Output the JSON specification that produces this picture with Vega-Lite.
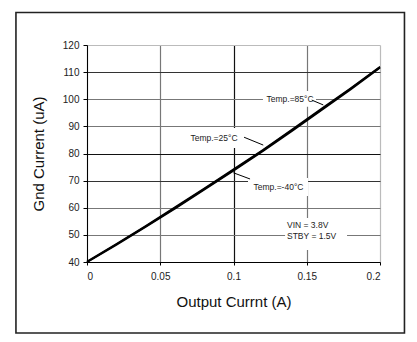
{
  "$schema": "https://vega.github.io/schema/vega-lite/v6.json",
  "width": 293,
  "height": 217,
  "autosize": {"type": "none"},
  "padding": {"left": 87, "top": 45, "right": 37, "bottom": 80},
  "background": "white",
  "config": {
    "view": {"stroke": null},
    "font": "Liberation Sans",
    "axis": {"labelFont": "Liberation Sans", "titleFont": "Liberation Sans", "labelColor": "#222", "titleColor": "#111", "titleFontWeight": "normal", "domainColor": "black", "tickColor": "black", "labelOverlap": false}
  },
  "datasets": {
    "curves": [
      {"temp": "85", "x": 0, "y": 40.2}, {"temp": "85", "x": 0.02, "y": 46.7}, {"temp": "85", "x": 0.04, "y": 53.3}, {"temp": "85", "x": 0.06, "y": 60.2}, {"temp": "85", "x": 0.08, "y": 67.1}, {"temp": "85", "x": 0.1, "y": 74.2}, {"temp": "85", "x": 0.12, "y": 81.3}, {"temp": "85", "x": 0.14, "y": 88.9}, {"temp": "85", "x": 0.16, "y": 96.5}, {"temp": "85", "x": 0.18, "y": 104.1}, {"temp": "85", "x": 0.2, "y": 112.0},
      {"temp": "25", "x": 0, "y": 40.0}, {"temp": "25", "x": 0.02, "y": 46.5}, {"temp": "25", "x": 0.04, "y": 53.1}, {"temp": "25", "x": 0.06, "y": 59.9}, {"temp": "25", "x": 0.08, "y": 66.9}, {"temp": "25", "x": 0.1, "y": 73.9}, {"temp": "25", "x": 0.12, "y": 81.1}, {"temp": "25", "x": 0.14, "y": 88.6}, {"temp": "25", "x": 0.16, "y": 96.2}, {"temp": "25", "x": 0.18, "y": 103.9}, {"temp": "25", "x": 0.2, "y": 111.8},
      {"temp": "-40", "x": 0, "y": 39.9}, {"temp": "-40", "x": 0.02, "y": 46.2}, {"temp": "-40", "x": 0.04, "y": 52.9}, {"temp": "-40", "x": 0.06, "y": 59.6}, {"temp": "-40", "x": 0.08, "y": 66.6}, {"temp": "-40", "x": 0.1, "y": 73.6}, {"temp": "-40", "x": 0.12, "y": 80.8}, {"temp": "-40", "x": 0.14, "y": 88.3}, {"temp": "-40", "x": 0.16, "y": 95.9}, {"temp": "-40", "x": 0.18, "y": 103.6}, {"temp": "-40", "x": 0.2, "y": 111.6}
    ],
    "boxes": [
      {"x": 0.1201, "x2": 0.1563, "y": 103.0, "y2": 97.2},
      {"x": 0.0676, "x2": 0.1051, "y": 89.4, "y2": 82.0},
      {"x": 0.1099, "x2": 0.1509, "y": 71.0, "y2": 64.3},
      {"x": 0.1352, "x2": 0.1775, "y": 56.2, "y2": 44.4}
    ],
    "leaders": [
      {"x": 0.1534, "y": 99.7, "x2": 0.1613, "y2": 97.9},
      {"x": 0.1072, "y": 86.0, "x2": 0.1203, "y2": 83.1},
      {"x": 0.0999, "y": 72.9, "x2": 0.1113, "y2": 70.6}
    ],
    "labels": [
      {"x": 0.1386, "y": 100.1, "text": "Temp.=85°C"},
      {"x": 0.0867, "y": 85.6, "text": "Temp.=25°C"},
      {"x": 0.1307, "y": 67.8, "text": "Temp.=-40°C"}
    ],
    "notes": [
      {"x": 0.1365, "y": 53.6, "text": "VIN = 3.8V"},
      {"x": 0.1365, "y": 49.6, "text": "STBY = 1.5V"}
    ],
    "frame": [
      {"x": -0.0485, "x2": 0.2167, "y": 131.98, "y2": 13.82}
    ]
  },
  "encoding": {
    "x": {"field": "x", "type": "quantitative", "scale": {"domain": [0, 0.2], "nice": false, "zero": false},
      "axis": {"values": [0, 0.05, 0.1, 0.15, 0.2], "format": ".2~f", "labelFontSize": 10, "tickSize": 3, "labelPadding": 6,
        "title": "Output Currnt (A)", "titleFontSize": 15, "titlePadding": 13,
        "grid": true,
        "gridColor": {"condition": [{"test": "datum.value == 0.1", "value": "#111"}, {"test": "datum.value == 0.2", "value": "#bbb"}], "value": "#777"},
        "gridWidth": 1.2}},
    "y": {"field": "y", "type": "quantitative", "scale": {"domain": [40, 120], "nice": false, "zero": false},
      "axis": {"values": [40, 50, 60, 70, 80, 90, 100, 110, 120], "tickCount": 9, "labelFontSize": 10, "tickSize": 4, "labelPadding": 4,
        "title": "Gnd Current (uA)", "titleFontSize": 15, "titlePadding": 16,
        "grid": true,
        "gridColor": {"condition": [{"test": "datum.value == 80", "value": "#111"}, {"test": "datum.value == 110 || datum.value == 70", "value": "#333"}, {"test": "datum.value == 120", "value": "#bbb"}], "value": "#777"},
        "gridWidth": 1.2}}
  },
  "layer": [
    {
      "data": {"name": "frame"},
      "mark": {"type": "rect", "filled": false, "stroke": "#222", "strokeWidth": 1.6, "clip": false},
      "encoding": {"x2": {"field": "x2"}, "y2": {"field": "y2"}}
    },
    {
      "data": {"name": "boxes"},
      "mark": {"type": "rect", "fill": "white", "stroke": null},
      "encoding": {"x2": {"field": "x2"}, "y2": {"field": "y2"}}
    },
    {
      "data": {"name": "curves"},
      "mark": {"type": "line", "color": "black", "strokeWidth": 1.6},
      "encoding": {"detail": {"field": "temp"}}
    },
    {
      "data": {"name": "leaders"},
      "mark": {"type": "rule", "color": "black", "strokeWidth": 1},
      "encoding": {"x2": {"field": "x2"}, "y2": {"field": "y2"}}
    },
    {
      "data": {"name": "labels"},
      "mark": {"type": "text", "fontSize": 8.5, "color": "#222", "align": "center", "baseline": "middle"},
      "encoding": {"text": {"field": "text"}}
    },
    {
      "data": {"name": "notes"},
      "mark": {"type": "text", "fontSize": 8.5, "color": "#222", "align": "left", "baseline": "middle"},
      "encoding": {"text": {"field": "text"}}
    }
  ]
}
